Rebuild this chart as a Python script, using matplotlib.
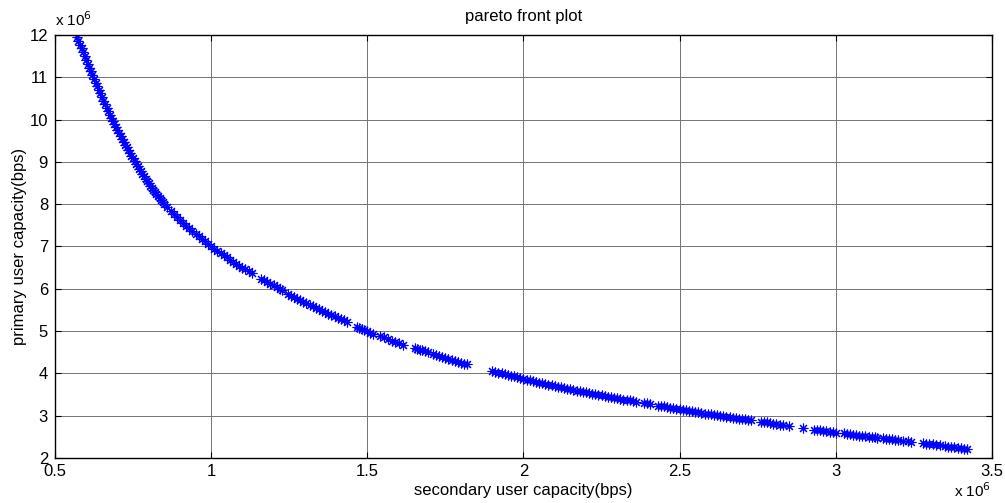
import matplotlib
matplotlib.use("Agg")
import matplotlib.pyplot as plt
from matplotlib.ticker import FixedLocator, FixedFormatter

plt.rcParams['font.family'] = ['Liberation Sans', 'DejaVu Sans']

# secondary user capacity (x 1e6 bps)
secondary = [
    0.570, 0.575, 0.580, 0.585, 0.590, 0.595, 0.600, 0.605, 0.610, 0.615,
    0.620, 0.625, 0.630, 0.635, 0.640, 0.645, 0.650, 0.655, 0.660, 0.665,
    0.670, 0.675, 0.680, 0.685, 0.690, 0.695, 0.700, 0.705, 0.710, 0.715,
    0.720, 0.725, 0.730, 0.735, 0.740, 0.745, 0.750, 0.755, 0.760, 0.765,
    0.770, 0.775, 0.780, 0.785, 0.790, 0.795, 0.800, 0.805, 0.810, 0.815,
    0.820, 0.825, 0.830, 0.835, 0.840, 0.845, 0.850,
    0.86, 0.87, 0.88, 0.89, 0.90, 0.91, 0.92, 0.93, 0.94, 0.95,
    0.96, 0.97, 0.98, 0.99, 1.00, 1.01, 1.02, 1.03, 1.04, 1.05,
    1.06, 1.07, 1.08, 1.09, 1.10, 1.11, 1.12, 1.13,
    1.16, 1.17, 1.18, 1.19, 1.20, 1.21, 1.22, 1.228,
    1.245, 1.255, 1.265, 1.275, 1.285, 1.295, 1.305, 1.315, 1.325, 1.335,
    1.345, 1.355, 1.365, 1.375, 1.385, 1.395, 1.405, 1.415, 1.425, 1.435,
    1.468, 1.475, 1.483, 1.490, 1.500, 1.510, 1.518,
    1.541, 1.553, 1.565, 1.578, 1.590, 1.602, 1.614,
    1.653, 1.660, 1.668, 1.675, 1.685, 1.695, 1.71, 1.72, 1.73, 1.74,
    1.75, 1.76, 1.77, 1.78, 1.79, 1.80, 1.81, 1.82,
    1.90, 1.91, 1.92, 1.93, 1.94, 1.95, 1.96, 1.97, 1.98, 1.99,
    2.00, 2.01, 2.02, 2.03, 2.04, 2.05, 2.06, 2.07, 2.08, 2.09,
    2.10, 2.11, 2.12, 2.13, 2.14, 2.15, 2.16, 2.17, 2.18, 2.19,
    2.20, 2.21, 2.22, 2.23, 2.24, 2.25, 2.26, 2.27, 2.28, 2.29,
    2.30, 2.31, 2.32, 2.33, 2.34, 2.35, 2.36,
    2.385, 2.395, 2.405,
    2.43, 2.44, 2.45, 2.46, 2.47, 2.48, 2.49, 2.50, 2.51, 2.52,
    2.53, 2.54, 2.55, 2.56, 2.57, 2.58, 2.59, 2.60, 2.61, 2.62,
    2.63, 2.64, 2.65, 2.66, 2.67, 2.68, 2.69, 2.70, 2.71, 2.72, 2.73,
    2.76, 2.77, 2.78, 2.79, 2.80, 2.81, 2.82, 2.83,
    2.85, 2.895,
    2.93, 2.94, 2.95, 2.96, 2.97, 2.98, 2.99, 3.00,
    3.025, 3.035, 3.045, 3.055, 3.065, 3.075, 3.085, 3.095, 3.105, 3.115, 3.125, 3.132,
    3.15, 3.16, 3.17, 3.18, 3.19, 3.20, 3.215, 3.23, 3.24,
    3.28, 3.29, 3.30, 3.31, 3.32, 3.335, 3.35, 3.36, 3.37, 3.38, 3.39, 3.40, 3.41, 3.42,
]

# primary user capacity (x 1e6 bps)
primary = [
    11.95, 11.86, 11.77, 11.68, 11.59, 11.50, 11.41, 11.32, 11.23, 11.14,
    11.05, 10.96, 10.87, 10.79, 10.70, 10.62, 10.53, 10.45, 10.36, 10.28,
    10.20, 10.11, 10.03, 9.96, 9.89, 9.82, 9.75, 9.68, 9.61, 9.54,
    9.47, 9.41, 9.34, 9.27, 9.21, 9.14, 9.08, 9.02, 8.96, 8.90,
    8.84, 8.78, 8.72, 8.66, 8.60, 8.55, 8.49, 8.44, 8.39, 8.34,
    8.29, 8.24, 8.19, 8.14, 8.10, 8.05, 8.01,
    7.93, 7.85, 7.77, 7.70, 7.63, 7.56, 7.49, 7.43, 7.37, 7.30,
    7.24, 7.18, 7.12, 7.06, 7.00, 6.95, 6.89, 6.84, 6.79, 6.74,
    6.69, 6.64, 6.59, 6.55, 6.50, 6.46, 6.41, 6.37,
    6.24, 6.20, 6.16, 6.12, 6.08, 6.04, 6.00, 5.97,
    5.87, 5.83, 5.80, 5.76, 5.73, 5.69, 5.66, 5.62, 5.59, 5.55,
    5.52, 5.48, 5.45, 5.41, 5.38, 5.35, 5.31, 5.28, 5.25, 5.22,
    5.09, 5.07, 5.04, 5.02, 4.99, 4.96, 4.94,
    4.89, 4.85, 4.81, 4.77, 4.74, 4.71, 4.67,
    4.60, 4.58, 4.56, 4.55, 4.52, 4.50, 4.46, 4.44, 4.41, 4.39,
    4.37, 4.34, 4.32, 4.30, 4.28, 4.25, 4.23, 4.21,
    4.06, 4.04, 4.02, 4.00, 3.98, 3.96, 3.94, 3.93, 3.91, 3.89,
    3.87, 3.85, 3.84, 3.82, 3.80, 3.78, 3.77, 3.75, 3.73, 3.72,
    3.70, 3.68, 3.67, 3.65, 3.64, 3.62, 3.61, 3.59, 3.58, 3.56,
    3.55, 3.54, 3.52, 3.51, 3.49, 3.48, 3.47, 3.45, 3.44, 3.42,
    3.41, 3.40, 3.38, 3.37, 3.36, 3.35, 3.33,
    3.30, 3.29, 3.28,
    3.24, 3.23, 3.22, 3.20, 3.19, 3.18, 3.16, 3.15, 3.14, 3.13,
    3.11, 3.10, 3.09, 3.08, 3.07, 3.05, 3.04, 3.03, 3.02, 3.01,
    3.00, 2.99, 2.97, 2.96, 2.95, 2.94, 2.93, 2.92, 2.91, 2.90, 2.89,
    2.86, 2.85, 2.84, 2.83, 2.81, 2.80, 2.79, 2.78,
    2.76, 2.71,
    2.67, 2.66, 2.65, 2.64, 2.63, 2.62, 2.61, 2.60,
    2.58, 2.57, 2.56, 2.55, 2.54, 2.53, 2.52, 2.51, 2.50, 2.50, 2.49, 2.48,
    2.47, 2.46, 2.45, 2.44, 2.43, 2.42, 2.41, 2.39, 2.38,
    2.35, 2.34, 2.33, 2.32, 2.31, 2.30, 2.28, 2.27, 2.26, 2.25, 2.24, 2.23, 2.22, 2.21,
]

x_ticks = [0.5, 1, 1.5, 2, 2.5, 3, 3.5]
x_tick_labels = ["0.5", "1", "1.5", "2", "2.5", "3", "3.5"]
y_ticks = [2, 3, 4, 5, 6, 7, 8, 9, 10, 11, 12]
y_tick_labels = [str(v) for v in y_ticks]

title = "pareto front plot"
xlabel = "secondary user capacity(bps)"
ylabel = "primary user capacity(bps)"

fig = plt.figure(figsize=(10.05, 5.03), dpi=100)
ax = fig.add_axes([0.0547, 0.0895, 0.9323, 0.8410])

ax.plot(secondary, primary, linestyle='none', marker=(8, 2, 0), color=(0, 0, 1),
        markersize=7, markeredgewidth=0.8)

ax.set_xlim(0.5, 3.5)
ax.set_ylim(2, 12)
ax.xaxis.set_major_locator(FixedLocator(x_ticks))
ax.xaxis.set_major_formatter(FixedFormatter(x_tick_labels))
ax.yaxis.set_major_locator(FixedLocator(y_ticks))
ax.yaxis.set_major_formatter(FixedFormatter(y_tick_labels))

ax.grid(True, color='0.45', linewidth=0.7, linestyle='-')
ax.set_axisbelow(True)
ax.tick_params(direction='in', length=4, width=0.8, top=True, right=True,
               labelsize=12, colors='black')
ax.tick_params(axis='x', pad=4.5)
ax.tick_params(axis='y', pad=5)
for s in ax.spines.values():
    s.set_linewidth(1.0)
    s.set_color('black')

ax.set_title(title, fontsize=12, pad=10)
ax.set_xlabel(xlabel, fontsize=12, labelpad=3)
ax.set_ylabel(ylabel, fontsize=12, labelpad=1.5)

fig.text(0.055, 0.942, r"x 10$^{6}$", fontsize=11, ha='left', va='bottom')
fig.text(0.949, 0.005, r"x 10$^{6}$", fontsize=11, ha='left', va='bottom')

fig.savefig("out.png", dpi=100)
